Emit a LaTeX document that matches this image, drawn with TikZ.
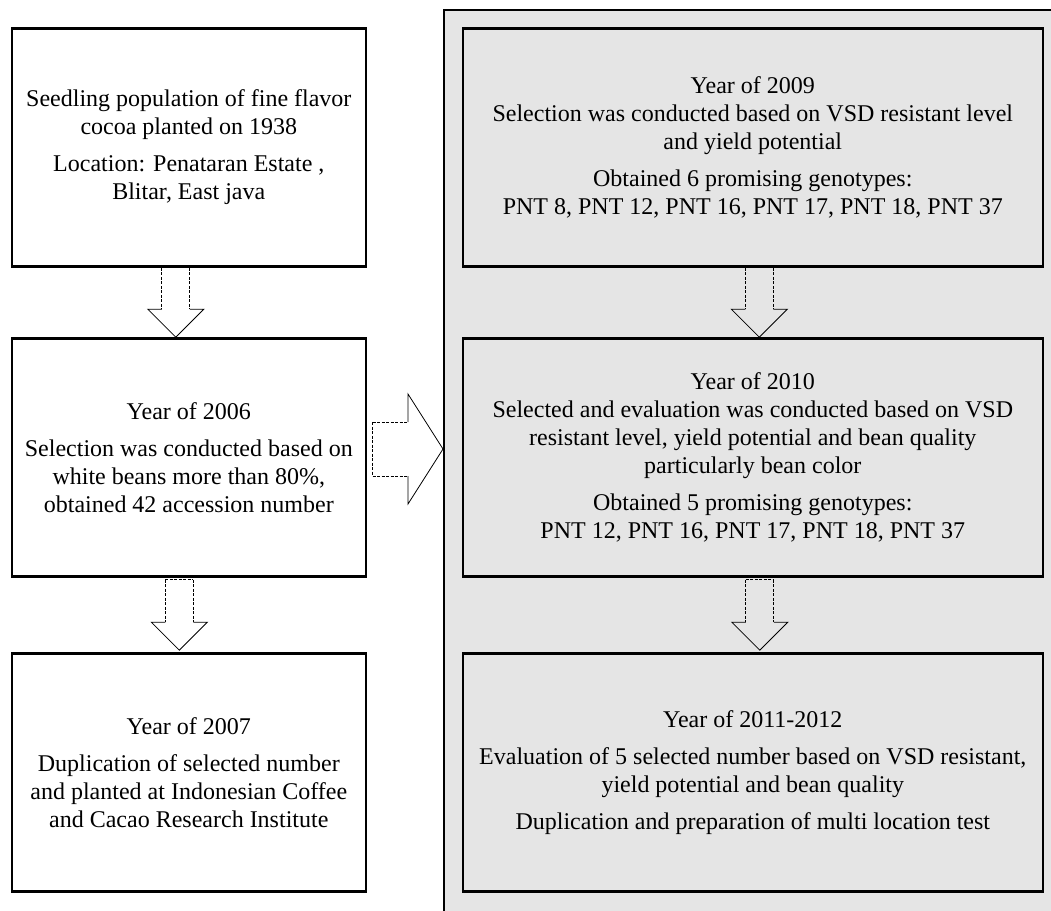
\documentclass[tikz,border=0pt]{standalone}
\usepackage{fontspec}
\setmainfont{Liberation Serif}
\usetikzlibrary{positioning,calc}

\begin{document}
\begin{tikzpicture}[node distance=155pt and 282pt,on grid,
   box/.style={draw,line width=1.3pt,minimum width=177pt,minimum height=119pt,
     align=center,font=\fontsize{12pt}{14pt}\selectfont},
   gbox/.style={box,fill=black!10,minimum width=290pt},
   panel/.style={draw,line width=1.2pt,fill=black!10},
   shaft/.style={thin,dash pattern=on 1.5pt off 0.75pt},
   head/.style={thin}]
   \useasboundingbox (0,0) rectangle (525.5pt,-455.5pt);
   % grey frame on the right
   \node[panel,anchor=north west,minimum width=310pt,minimum height=460pt] (panel) at (221.5pt,-4.5pt) {};
   % left column
   \node[box] (b1) at (94.4pt,-73.75pt) {Seedling population of fine flavor\\ cocoa planted on 1938\\[4.5pt]
      Location: Penataran Estate ,\\ Blitar, East java};
   \node[box] (b2) [below =of b1] {Year of 2006\\[4.5pt] Selection was conducted based on\\
      white beans more than 80\%,\\ obtained 42 accession number};
   \node[box] (b3) [below =157.5pt of b2] {Year of 2007\\[4.5pt] Duplication of selected number\\
      and planted at Indonesian Coffee\\ and Cacao Research Institute};
   % right column
   \node[gbox] (r1) [right =of b1] {Year of 2009\\ Selection was conducted based on VSD resistant level\\
      and yield potential\\[4.5pt] Obtained 6 promising genotypes:\\ PNT 8, PNT 12, PNT 16, PNT 17, PNT 18, PNT 37};
   \node[gbox] (r2) [right =of b2] {Year of 2010\\ Selected and evaluation was conducted based on VSD\\
      resistant level, yield potential and bean quality\\ particularly bean color\\[4.5pt]
      Obtained 5 promising genotypes:\\ PNT 12, PNT 16, PNT 17, PNT 18, PNT 37};
   \node[gbox] (r3) [right =of b3] {Year of 2011-2012\\[4.5pt] Evaluation of 5 selected number based on VSD resistant,\\
      yield potential and bean quality\\[4.5pt] Duplication and preparation of multi location test};
   % hollow down arrows
   \foreach \from/\to/\dx/\gap in {b1/b2/-6.5pt/0pt,b2/b3/-4.75pt/1pt,r1/r2/3.25pt/0pt,r2/r3/3.5pt/1pt}{
      \path ($(\from.south)+(\dx,-\gap)$) coordinate (top) ($(\to.north)+(\dx,\gap)$) coordinate (tip);
      \draw[shaft] ($(top)+(-7pt,0)$) -- ($(tip)+(-7pt,14pt)$)
                   ($(top)+(7pt,0)$) -- ($(tip)+(7pt,14pt)$)
                   ($(top)+(-7pt,0)$) -- ($(top)+(7pt,0)$);
      \draw[head] ($(tip)+(-7pt,14pt)$) -- ($(tip)+(-14pt,14pt)$) -- (tip)
                  -- ($(tip)+(14pt,14pt)$) -- ($(tip)+(7pt,14pt)$);
   }
   % hollow arrow into the frame
   \path ($(b2.east)+(2.75pt,4.25pt)$) coordinate (hs) (panel.west |- hs) coordinate (ht);
   \draw[shaft] ($(hs)+(0,13.5pt)$) -- ($(ht)+(-17.5pt,13.5pt)$)
                ($(hs)+(0,-13.5pt)$) -- ($(ht)+(-17.5pt,-13.5pt)$)
                ($(hs)+(0,13.5pt)$) -- ($(hs)+(0,-13.5pt)$);
   \draw[head] ($(ht)+(-17.5pt,13.5pt)$) -- ($(ht)+(-17.5pt,27.5pt)$) -- (ht)
               -- ($(ht)+(-17.5pt,-27.5pt)$) -- ($(ht)+(-17.5pt,-13.5pt)$);
\end{tikzpicture}
\end{document}
